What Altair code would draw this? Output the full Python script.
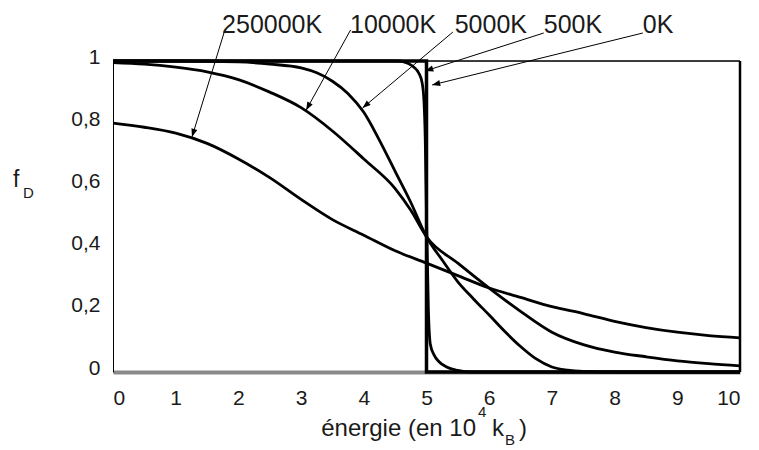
import math
import altair as alt
import pandas as pd

# ---------------- data ----------------
# energy in units of 10^4 k_B, f_D occupation
e_0k = [0, 5, 5, 10]
f_0k = [1, 1, 0, 0]

e_500 = [0, 4.55, 4.7, 4.8, 4.88, 4.93, 4.96, 4.98, 5.0, 5.03, 5.06, 5.12, 5.2, 5.32, 5.5, 5.7, 10]
f_500 = [1, 1, 0.993, 0.98, 0.96, 0.93, 0.87, 0.75, 0.5, 0.2, 0.09, 0.055, 0.033, 0.016, 0.005, 0.0, 0.0]

e_5000 = [0, 1, 2, 2.5, 3, 3.25, 3.5, 3.75, 4, 4.25, 4.5, 4.75, 5, 5.25, 5.5, 5.75, 6, 6.25, 6.5, 6.75, 7, 7.25, 7.5, 8, 10]
f_5000 = [1, 1, 0.997, 0.99, 0.978, 0.962, 0.935, 0.895, 0.835, 0.745, 0.645, 0.545, 0.435, 0.36, 0.29, 0.235, 0.183, 0.13, 0.082, 0.042, 0.016, 0.006, 0.002, 0.0, 0.0]

e_10000 = [0, 0.5, 1, 1.5, 2, 2.5, 3, 3.5, 4, 4.5, 4.75, 5, 5.5, 6, 6.5, 7, 7.5, 8, 8.5, 9, 9.5, 10]
f_10000 = [0.995, 0.99, 0.98, 0.965, 0.94, 0.9, 0.85, 0.775, 0.685, 0.59, 0.52, 0.435, 0.35, 0.27, 0.195, 0.128, 0.088, 0.064, 0.049, 0.036, 0.027, 0.02]

e_250000 = [0, 0.5, 1, 1.5, 2, 2.5, 3, 3.5, 4, 4.5, 5, 5.5, 6, 6.5, 7, 7.5, 8, 8.5, 9, 9.5, 10]
f_250000 = [0.80, 0.787, 0.768, 0.735, 0.685, 0.625, 0.555, 0.49, 0.44, 0.39, 0.35, 0.31, 0.27, 0.24, 0.21, 0.188, 0.163, 0.143, 0.128, 0.117, 0.11]

x_ticks = [0, 1, 2, 3, 4, 5, 6, 7, 8, 9, 10]
y_ticks = [0, 0.2, 0.4, 0.6, 0.8, 1]

# annotation labels and arrows (data units)
labels = ["250000K", "10000K", "5000K", "500K", "0K"]
label_e = [1.74, 3.78, 5.45, 6.87, 8.45]
label_f = [1.09, 1.09, 1.09, 1.09, 1.09]
arrow_e0 = [1.785, 3.79, 5.42, 6.87, 8.45]
arrow_f0 = [1.10, 1.10, 1.093, 1.09, 1.09]
arrow_e1 = [1.26, 3.08, 3.98, 4.98, 5.09]
arrow_f1 = [0.756, 0.842, 0.849, 0.968, 0.923]

# ---------------- layout ----------------
W, H = 627, 311
PX_X = W / 10.0
PX_Y = H / 1.0
FONT = "Liberation Sans"
TXT = "#1a1a1a"

rows = []
for name, es, fs in [("500K", e_500, f_500), ("5000K", e_5000, f_5000),
                     ("10000K", e_10000, f_10000), ("250000K", e_250000, f_250000)]:
    for i, (e, f) in enumerate(zip(es, fs)):
        rows.append({"E": e, "f": f, "T": name, "idx": i})
curves = pd.DataFrame(rows)
zero = pd.DataFrame({"E": e_0k, "f": f_0k, "idx": list(range(len(e_0k)))})

angles = []
for e0, f0, e1, f1 in zip(arrow_e0, arrow_f0, arrow_e1, arrow_f1):
    dx = (e1 - e0) * PX_X
    dy = -(f1 - f0) * PX_Y
    angles.append(math.degrees(math.atan2(dx, -dy)) % 360)
ann = pd.DataFrame({"label": labels, "le": label_e, "lf": label_f,
                    "e0": arrow_e0, "f0": arrow_f0, "e1": arrow_e1, "f1": arrow_f1,
                    "ang": angles})

xs = alt.Scale(domain=[0, 10], nice=False, zero=False)
ys = alt.Scale(domain=[0, 1], nice=False, zero=False)

x_axis = alt.Axis(values=x_ticks, title=None, grid=False, ticks=False,
                  labelFont=FONT, labelFontSize=21, labelColor=TXT, labelPadding=15,
                  labelExpr="format(datum.value, 'd')",
                  domainColor="#8a8a8a", domainWidth=4)
y_axis = alt.Axis(values=y_ticks, title=None, grid=False, ticks=False,
                  labelFont=FONT, labelFontSize=21, labelColor=TXT, labelPadding=13,
                  labelOffset=-4, labelExpr="replace(format(datum.value, '~g'), '.', ',')",
                  domainColor="black", domainWidth=1)

frame_src = pd.DataFrame({"a": [0]})
top_rule = alt.Chart(frame_src).mark_rule(color="black", strokeWidth=1.5).encode(
    x=alt.X(datum=0, scale=xs, axis=x_axis), x2=alt.X2(datum=10),
    y=alt.Y(datum=1, scale=ys, axis=y_axis))
right_rule = alt.Chart(frame_src).mark_rule(color="black", strokeWidth=2.5).encode(
    x=alt.X(datum=10, scale=xs), y=alt.Y(datum=0, scale=ys), y2=alt.Y2(datum=1))

curve_layer = alt.Chart(curves).mark_line(color="black", strokeWidth=2.8, interpolate="monotone").encode(
    x=alt.X("E:Q", scale=xs),
    y=alt.Y("f:Q", scale=ys),
    detail="T:N",
    order="idx:Q")

zero_layer = alt.Chart(zero).mark_line(color="black", strokeWidth=3.5, interpolate="linear").encode(
    x=alt.X("E:Q", scale=xs),
    y=alt.Y("f:Q", scale=ys),
    order="idx:Q")

arrow_lines = alt.Chart(ann).mark_rule(color="black", strokeWidth=1).encode(
    x=alt.X("e0:Q", scale=xs), y=alt.Y("f0:Q", scale=ys),
    x2="e1:Q", y2="f1:Q")

arrow_heads = alt.Chart(ann).mark_point(
    shape="M0,0L-0.38,1L0.38,1Z", filled=True, color="black", opacity=1, size=260).encode(
    x=alt.X("e1:Q", scale=xs), y=alt.Y("f1:Q", scale=ys),
    angle=alt.Angle("ang:Q", scale=None))

label_text = alt.Chart(ann).mark_text(
    font=FONT, fontSize=25, color=TXT, align="left", baseline="alphabetic").encode(
    x=alt.X("le:Q", scale=xs), y=alt.Y("lf:Q", scale=ys), text="label:N")

def txt(s, x, y, size, align="left"):
    return alt.Chart(frame_src).mark_text(
        font=FONT, fontSize=size, color=TXT, align=align, baseline="alphabetic", text=s).encode(
        x=alt.value(x), y=alt.value(y))

title_parts = [
    txt("énergie (en 10", 363, 375, 24, align="right"),
    txt("4", 365, 356, 15),
    txt("k", 379, 375, 24),
    txt("B", 392, 384, 15),
    txt(")", 406, 375, 24),
    txt("f", -100, 126, 23),
    txt("D", -90, 137, 15),
]

chart = alt.layer(top_rule, right_rule, curve_layer, zero_layer, arrow_lines, arrow_heads,
                  label_text, *title_parts).properties(
    width=W, height=H,
    padding={"left": 105, "top": 53, "right": 11, "bottom": 76},
    autosize=alt.AutoSizeParams(type="none"),
).configure_view(stroke=None).configure(background="white")

chart.save("out.html", embed_options={"renderer": "svg", "actions": False})
